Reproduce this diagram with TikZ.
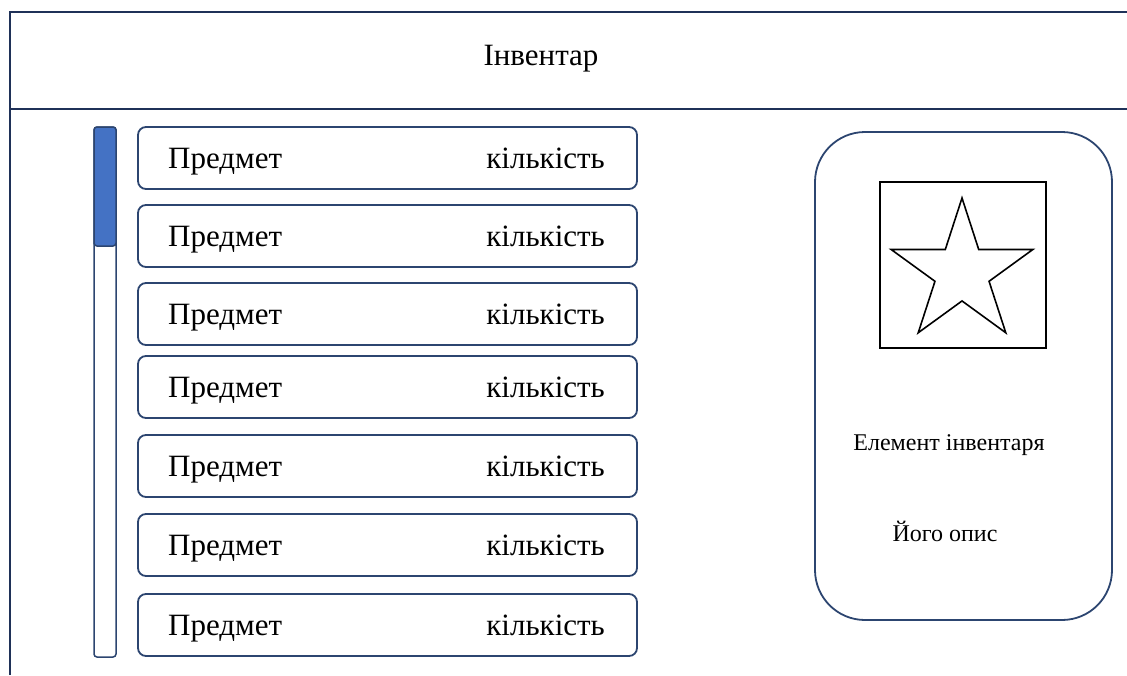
\documentclass[tikz,border=0pt]{standalone}
\usepackage{fontspec}
\setmainfont{Liberation Serif}
\usetikzlibrary{positioning, shapes.geometric}
\definecolor{framenavy}{HTML}{1F3158}
\definecolor{rownavy}{HTML}{2C4570}
\definecolor{thumbblue}{HTML}{4472C4}
\tikzset{
	itembox/.style={rectangle, draw=rownavy, line width=1.8pt, rounded corners=8pt,
			minimum width=499pt, minimum height=62pt, inner sep=0pt, outer sep=0pt},
	itemtext/.style={font=\fontsize{31}{36}\selectfont, inner sep=0pt}
}

\begin{document}
\begin{tikzpicture}[x=1pt, y=-1pt, node distance=16pt]
    \useasboundingbox (0,0) rectangle (1127,675);
    % frame and header
    \draw [framenavy, line width=2.8pt] (10,675) -- (10,12) -- (1127,12);
    \draw [framenavy, line width=2pt] (10,109) -- (1127,109);
    \node (title) [font=\fontsize{31}{36}\selectfont] at (541,59) {Інвентар};

    % scroll bar
    \node (scroll) [rectangle, draw=rownavy, line width=1.5pt, rounded corners=3pt,
        minimum width=22pt, minimum height=530pt, inner sep=0pt, outer sep=0pt] at (105,392) {};
    \node (thumb) [rectangle, draw=rownavy, fill=thumbblue, line width=1.5pt, rounded corners=3pt,
        minimum width=22pt, minimum height=119pt, inner sep=0pt, outer sep=0pt, anchor=north] at (scroll.north) {};

    % list of items
    \node (row1) [itembox] at (387.5,158) {};
    \node (row2) [itembox, below=16pt of row1] {};
    \node (row3) [itembox, below=16pt of row2] {};
    \node (row4) [itembox, below=11pt of row3] {};
    \node (row5) [itembox, below=17pt of row4] {};
    \node (row6) [itembox, below=17pt of row5] {};
    \node (row7) [itembox, below=18pt of row6] {};
    \node (item1) [itemtext, anchor=base west] at ([xshift=30pt, yshift=-10pt]row1.west) {Предмет};
    \node (item2) [itemtext, anchor=base west] at ([xshift=30pt, yshift=-10pt]row2.west) {Предмет};
    \node (item3) [itemtext, anchor=base west] at ([xshift=30pt, yshift=-10pt]row3.west) {Предмет};
    \node (item4) [itemtext, anchor=base west] at ([xshift=30pt, yshift=-10pt]row4.west) {Предмет};
    \node (item5) [itemtext, anchor=base west] at ([xshift=30pt, yshift=-10pt]row5.west) {Предмет};
    \node (item6) [itemtext, anchor=base west] at ([xshift=30pt, yshift=-10pt]row6.west) {Предмет};
    \node (item7) [itemtext, anchor=base west] at ([xshift=30pt, yshift=-10pt]row7.west) {Предмет};
    \node (count1) [itemtext, anchor=base east] at ([xshift=-32pt, yshift=-10pt]row1.east) {кількість};
    \node (count2) [itemtext, anchor=base east] at ([xshift=-32pt, yshift=-10pt]row2.east) {кількість};
    \node (count3) [itemtext, anchor=base east] at ([xshift=-32pt, yshift=-10pt]row3.east) {кількість};
    \node (count4) [itemtext, anchor=base east] at ([xshift=-32pt, yshift=-10pt]row4.east) {кількість};
    \node (count5) [itemtext, anchor=base east] at ([xshift=-32pt, yshift=-10pt]row5.east) {кількість};
    \node (count6) [itemtext, anchor=base east] at ([xshift=-32pt, yshift=-10pt]row6.east) {кількість};
    \node (count7) [itemtext, anchor=base east] at ([xshift=-32pt, yshift=-10pt]row7.east) {кількість};

    % details panel
    \node (panel) [rectangle, draw=rownavy, line width=1.8pt, rounded corners=50pt,
        minimum width=297pt, minimum height=488pt, inner sep=0pt] at (963.5,376) {};
    \node (picture) [rectangle, draw=black, line width=1.6pt,
        minimum width=166pt, minimum height=166pt, inner sep=0pt] at (963,265) {};
    \node (icon) [star, star points=5, star point ratio=2.62, draw=black, line width=1.6pt,
        minimum size=149pt, inner sep=0pt] at (962,272.5) {};
    \node (name) [font=\fontsize{24}{28}\selectfont] at (949,445) {Елемент інвентаря};
    \node (descr) [font=\fontsize{24}{28}\selectfont] at (945,531) {Його опис};
\end{tikzpicture}
\end{document}
